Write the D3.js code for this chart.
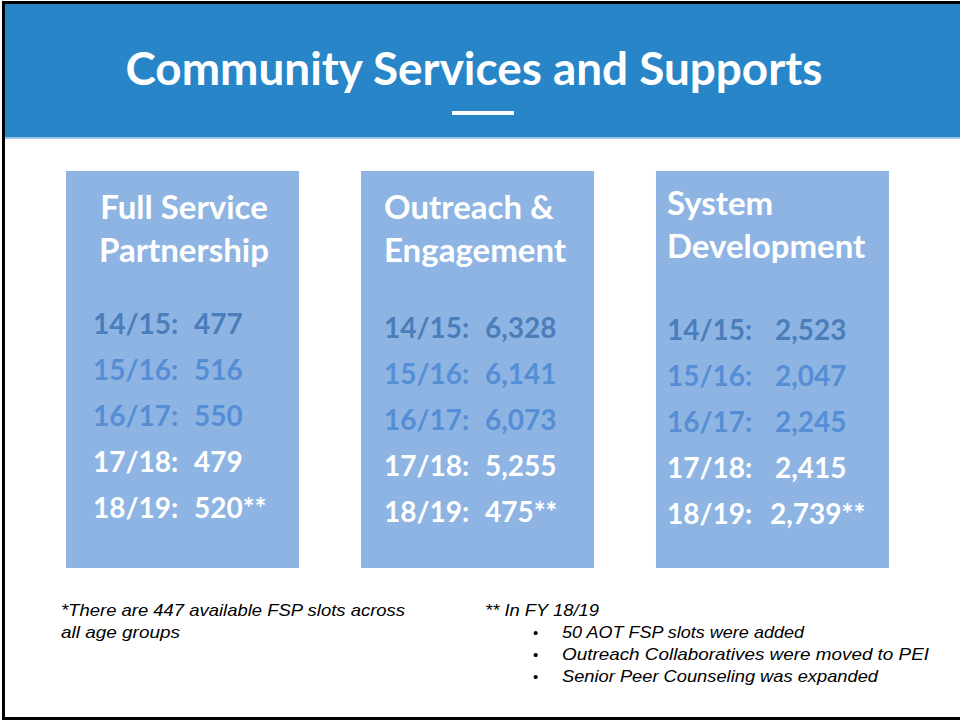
<!DOCTYPE html>
<html>
<head>
<meta charset="utf-8">
<script src="https://cdn.jsdelivr.net/npm/d3@7"></script>
<style>
  body { margin: 0; background: #fff; }
  svg { display: block; }
</style>
</head>
<body>
<div id="wrapper"></div>
<script>
// data
const title = "Community Services and Supports"
const categories = ["Full Service Partnership", "Outreach & Engagement", "System Development"]
const headingLines = [["Full Service", "Partnership"], ["Outreach &", "Engagement"], ["System", "Development"]]
const years = ["14/15", "15/16", "16/17", "17/18", "18/19"]
const fspValues = ["477", "516", "550", "479", "520**"]
const outreachValues = ["6,328", "6,141", "6,073", "5,255", "475**"]
const sysDevValues = ["2,523", "2,047", "2,245", "2,415", "2,739**"]
const footLeft = ["*There are 447 available FSP slots across", "all age groups"]
const footRightHead = "** In FY 18/19"
const footBullets = ["50 AOT FSP slots were added", "Outreach Collaboratives were moved to PEI", "Senior Peer Counseling was expanded"]

const seriesValues = [fspValues, outreachValues, sysDevValues]

function draw() {
  const dims = { width: 960, height: 721 }

  const svg = d3.select("#wrapper")
    .append("svg")
      .attr("width", dims.width)
      .attr("height", dims.height)

  // slide frame
  svg.append("rect")
    .attr("x", 3.5).attr("y", 2.5)
    .attr("width", dims.width).attr("height", 716)
    .attr("fill", "#fff")
    .attr("stroke", "#000")
    .attr("stroke-width", 3)

  // header band
  svg.append("rect")
    .attr("x", 5).attr("y", 4)
    .attr("width", dims.width).attr("height", 133)
    .attr("fill", "#2886C8")
  svg.append("rect")
    .attr("x", 5).attr("y", 137)
    .attr("width", dims.width).attr("height", 2)
    .attr("fill", "#9DC6EA")

  svg.append("text")
    .attr("x", 474)
    .attr("y", 85)
    .attr("text-anchor", "middle")
    .attr("fill", "#fff")
    .style("font-family", "Lato, 'Open Sans', sans-serif")
    .style("font-weight", "bold")
    .style("font-size", "45px")
    .attr("textLength", 697)
    .attr("lengthAdjust", "spacingAndGlyphs")
    .text(title)

  svg.append("rect")
    .attr("x", 452).attr("y", 111)
    .attr("width", 62).attr("height", 4)
    .attr("fill", "#fff")

  // scales
  const xScale = d3.scaleBand()
    .domain(categories)
    .range([66, 889])
    .paddingInner(0.21)

  const yScale = d3.scalePoint()
    .domain(years)
    .range([0, 184])

  const rowColor = d3.scaleOrdinal()
    .domain(years)
    .range(["#4A7EBB", "#558ED5", "#558ED5", "#fff", "#fff"])

  // per-column layout
  const colLayout = [
    { anchor: "middle", hx: 118, hy: 219, rowTop: 334, lx: 27, vx: 128 },
    { anchor: "start", hx: 23, hy: 219, rowTop: 338, lx: 23, vx: 124 },
    { anchor: "start", hx: 11, hy: 215, rowTop: 340, lx: 11, vx: 119 }
  ]

  const cols = svg.selectAll("g.col")
    .data(categories)
    .join("g")
      .attr("class", "col")
      .attr("transform", d => `translate(${xScale(d)},0)`)

  cols.append("rect")
    .attr("y", 171)
    .attr("width", xScale.bandwidth())
    .attr("height", 397)
    .attr("fill", "#8EB4E3")

  cols.each(function(cat, i) {
    const g = d3.select(this)
    const L = colLayout[i]

    g.selectAll("text.head")
      .data(headingLines[i])
      .join("text")
        .attr("class", "head")
        .attr("x", L.hx)
        .attr("y", (d, j) => L.hy + j * 43)
        .attr("text-anchor", L.anchor)
        .attr("fill", "#fff")
        .style("font-family", "Lato, 'Open Sans', sans-serif")
        .style("font-weight", "bold")
        .style("font-size", "33px")
        .text(d => d)

    const rows = g.selectAll("g.row")
      .data(years.map((y, j) => ({ year: y, value: seriesValues[i][j] })))
      .join("g")
        .attr("class", "row")
        .attr("transform", d => `translate(0,${L.rowTop + yScale(d.year)})`)
        .attr("fill", d => rowColor(d.year))
        .style("font-family", "Lato, 'Open Sans', sans-serif")
        .style("font-weight", "bold")
        .style("font-size", "28px")

    rows.append("text")
      .attr("x", L.lx)
      .text(d => d.year + ":")

    rows.append("text")
      .attr("x", d => (i === 2 && d.value.endsWith("**")) ? L.vx - 5 : L.vx)
      .text(d => d.value)
  })

  // footnotes
  const foot = svg.append("g")
    .attr("fill", "#000")
    .style("font-family", "'Liberation Sans', Arial, sans-serif")
    .style("font-style", "italic")
    .style("font-size", "17px")

  const footLeftW = [344, 119]
  foot.selectAll("text.fl")
    .data(footLeft)
    .join("text")
      .attr("class", "fl")
      .attr("x", 61)
      .attr("y", (d, i) => 616 + i * 22)
      .attr("textLength", (d, i) => footLeftW[i])
      .attr("lengthAdjust", "spacingAndGlyphs")
      .text(d => d)

  foot.append("text")
    .attr("x", 485)
    .attr("y", 616)
    .attr("textLength", 114)
    .attr("lengthAdjust", "spacingAndGlyphs")
    .text(footRightHead)

  const bulletW = [242, 367, 316]
  const bullets = foot.selectAll("g.bullet")
    .data(footBullets)
    .join("g")
      .attr("class", "bullet")
      .attr("transform", (d, i) => `translate(0,${638 + i * 22})`)

  bullets.append("text")
    .attr("x", 533)
    .style("font-style", "normal")
    .style("font-size", "15px")
    .text("•")

  bullets.append("text")
    .attr("x", 562)
    .attr("textLength", (d, i) => bulletW[i])
    .attr("lengthAdjust", "spacingAndGlyphs")
    .text(d => d)
}
draw()
</script>
</body>
</html>
